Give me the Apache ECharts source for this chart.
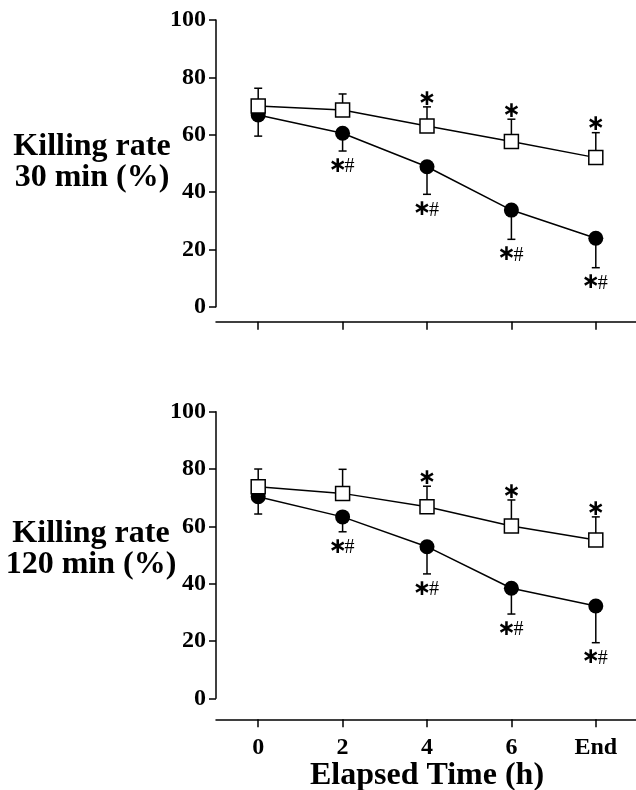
<!DOCTYPE html>
<html><head><meta charset="utf-8">
<script src="https://cdn.jsdelivr.net/npm/echarts@6/dist/echarts.min.js"></script>
<style>html,body{margin:0;padding:0;background:#fff}#c{width:636px;height:790px}</style>
</head><body><div id="c"></div>
<script>
// ---- data ----
const categories = ['0', '2', '4', '6', 'End'];
const yTicks = [0, 20, 40, 60, 80, 100];

// Killing rate 30 min (%)
const kill30Open = [70.0, 68.6, 63.0, 57.6, 52.0];
const kill30OpenErrTop = [76.2, 74.2, 69.7, 65.4, 60.7];
const kill30Filled = [66.9, 60.5, 48.8, 33.7, 23.9];
const kill30FilledErrBottom = [59.5, 54.3, 39.2, 23.5, 13.6];

// Killing rate 120 min (%)
const kill120Open = [73.8, 71.5, 66.8, 60.1, 55.2];
const kill120OpenErrTop = [80.0, 79.9, 74.0, 69.2, 63.3];
const kill120Filled = [70.3, 63.3, 52.9, 38.4, 32.2];
const kill120FilledErrBottom = [64.3, 58.1, 43.4, 29.4, 19.4];

// significance marks
const openMarks = ['', '', '*', '*', '*'];
const filledMarks = ['', '*#', '*#', '*#', '*#'];

const yTitle30 = 'Killing rate\n30 min (%)';
const yTitle120 = 'Killing rate\n120 min (%)';
const xTitle = 'Elapsed Time (h)';

// ---- chart ----
const SERIF = '"Liberation Serif", "DejaVu Serif", serif';
const chart = echarts.init(document.getElementById('c'), null, {renderer: 'canvas'});

function errSeries(g, mean, err) {
  return {
    type: 'custom', xAxisIndex: g, yAxisIndex: g, z: 1, silent: true,
    data: mean.map((m, i) => [i, m, err[i]]),
    renderItem(params, api) {
      const a = api.coord([api.value(0), api.value(1)]);
      const b = api.coord([api.value(0), api.value(2)]);
      const st = {stroke: '#000', lineWidth: 1.5};
      return {type: 'group', children: [
        {type: 'line', shape: {x1: a[0], y1: a[1], x2: b[0], y2: b[1]}, style: st},
        {type: 'line', shape: {x1: b[0] - 4, y1: b[1], x2: b[0] + 4, y2: b[1]}, style: st}
      ]};
    }
  };
}

function star(x, y) {
  return {type: 'text', style: {text: '\u2217', x: x, y: y, font: 'bold 22px "DejaVu Sans"', fill: '#000', align: 'center', verticalAlign: 'middle'}};
}
function hash(x, y) {
  return {type: 'text', style: {text: '#', x: x, y: y, font: '20px ' + SERIF, fill: '#000', align: 'center', verticalAlign: 'middle'}};
}

function markSeries(g, ends, marks, below) {
  return {
    type: 'custom', xAxisIndex: g, yAxisIndex: g, z: 6, silent: true,
    data: ends.map((v, i) => [i, v]),
    renderItem(params, api) {
      const m = marks[params.dataIndex];
      const children = [];
      if (m) {
        const p = api.coord([api.value(0), api.value(1)]);
        const cy = below ? p[1] + 17 : p[1] - 6;
        if (m === '*#') { children.push(star(p[0] - 5, cy - 2), hash(p[0] + 7, cy - 1)); }
        else { children.push(star(p[0], cy - 2)); }
      }
      return {type: 'group', children: children};
    }
  };
}

function lineSeries(g, data, filled) {
  return {
    type: 'line', xAxisIndex: g, yAxisIndex: g, data: data,
    z: filled ? 3 : 4,
    symbol: filled ? 'circle' : 'rect',
    symbolSize: filled ? 15 : 14,
    showAllSymbol: true,
    lineStyle: {color: '#000', width: 1.5},
    itemStyle: filled ? {color: '#000'} : {color: '#fff', borderColor: '#000', borderWidth: 1.5},
    emphasis: {disabled: true}
  };
}

function xAxis(g, showLabels, offset) {
  return {
    type: 'category', gridIndex: g, data: categories, boundaryGap: true,
    offset: offset,
    axisLine: {show: true, onZero: false, lineStyle: {color: '#000', width: 1.5}},
    axisTick: {show: true, alignWithLabel: true, length: 8, lineStyle: {color: '#000', width: 1.5}},
    axisLabel: {show: showLabels, color: '#000', fontFamily: SERIF, fontWeight: 'bold', fontSize: 24, margin: 16},
    splitLine: {show: false},
    name: showLabels ? xTitle : '',
    nameLocation: 'middle', nameGap: 35,
    nameTextStyle: {color: '#000', fontFamily: SERIF, fontWeight: 'bold', fontSize: 32}
  };
}

function yAxis(g) {
  return {
    type: 'value', gridIndex: g, min: yTicks[0], max: yTicks[yTicks.length - 1], interval: 20,
    axisLine: {show: true, lineStyle: {color: '#000', width: 1.5}},
    axisTick: {show: true, length: 7, lineStyle: {color: '#000', width: 1.5}},
    axisLabel: {color: '#000', fontFamily: SERIF, fontWeight: 'bold', fontSize: 24, margin: 10},
    splitLine: {show: false}
  };
}

function yTitle(text, x, y) {
  return {type: 'text', x: x, y: y, silent: true,
    style: {text: text, font: 'bold 32px ' + SERIF, lineHeight: 31, fill: '#000', align: 'center', verticalAlign: 'middle'}};
}

chart.setOption({
  animation: false,
  backgroundColor: '#fff',
  grid: [
    {left: 216, width: 422, top: 20, height: 286.7, containLabel: false, outerBoundsMode: 'none'},
    {left: 216, width: 422, top: 411.7, height: 286.6, containLabel: false, outerBoundsMode: 'none'}
  ],
  xAxis: [xAxis(0, false, 15), xAxis(1, true, 21)],
  yAxis: [yAxis(0), yAxis(1)],
  graphic: [yTitle(yTitle30, 92, 162), yTitle(yTitle120, 91, 549)],
  series: [
    errSeries(0, kill30Filled, kill30FilledErrBottom),
    errSeries(0, kill30Open, kill30OpenErrTop),
    lineSeries(0, kill30Filled, true),
    lineSeries(0, kill30Open, false),
    markSeries(0, kill30FilledErrBottom, filledMarks, true),
    markSeries(0, kill30OpenErrTop, openMarks, false),
    errSeries(1, kill120Filled, kill120FilledErrBottom),
    errSeries(1, kill120Open, kill120OpenErrTop),
    lineSeries(1, kill120Filled, true),
    lineSeries(1, kill120Open, false),
    markSeries(1, kill120FilledErrBottom, filledMarks, true),
    markSeries(1, kill120OpenErrTop, openMarks, false)
  ]
});
</script></body></html>
